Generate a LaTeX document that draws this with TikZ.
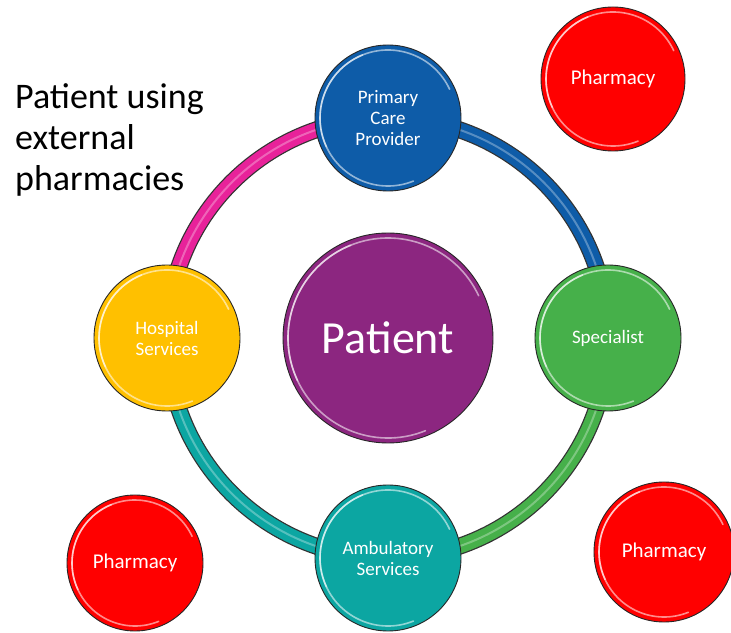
\documentclass[tikz,border=0pt]{standalone}
\usepackage{fontspec}
\setmainfont{Carlito}
\usetikzlibrary{backgrounds}
\definecolor{pcpblue}{RGB}{14,92,168}
\definecolor{specgreen}{RGB}{70,176,74}
\definecolor{hospyellow}{RGB}{255,192,0}
\definecolor{ambteal}{RGB}{12,166,162}
\definecolor{patpurple}{RGB}{140,38,128}
\definecolor{pharmred}{RGB}{255,0,0}
\definecolor{ringpink}{RGB}{232,34,154}
\newcommand\glossball[2]{%
  \pgfmathsetmacro\rr{#2-5}%
  \draw[gloss] ([shift={(112:\rr)}]#1.center) arc[start angle=112,end angle=205,radius=\rr];
  \draw[gloss] ([shift={(292:\rr)}]#1.center) arc[start angle=292,end angle=25,radius=\rr];
}
\tikzset{
  ball/.style={circle,draw=black!85,line width=0.9pt,inner sep=0pt,text=white,align=center},
  small/.style={font=\fontsize{19}{21}\selectfont},
  pharm/.style={ball,fill=pharmred,font=\fontsize{21}{23}\selectfont},
  gloss/.style={white,opacity=.55,line width=1.6pt,line cap=round},
  ringedge/.style={line width=17pt,black!80},
  ringhi/.style={line width=2pt,white,opacity=.3},
}
\begin{document}
\begin{tikzpicture}[x=1pt,y=1pt]
\useasboundingbox (0,0) rectangle (731,632);
\node[ball,fill=patpurple,minimum size=210pt,font=\fontsize{46}{50}\selectfont] (patient) at (388,294) {Patient};
\node[ball,fill=pcpblue,minimum size=146pt,small] (pcp) at (388,514) {Primary\\Care\\Provider};
\node[ball,fill=specgreen,minimum size=146pt,small] (spec) at (608,294) {Specialist};
\node[ball,fill=hospyellow,minimum size=146pt,small] (hosp) at (167,294) {Hospital\\Services};
\node[ball,fill=ambteal,minimum size=146pt,small] (amb) at (388,74) {Ambulatory\\Services};
\node[pharm,minimum size=144pt] (ph1) at (613,553) {Pharmacy};
\node[pharm,minimum size=136pt] (ph2) at (135,69) {Pharmacy};
\node[pharm,minimum size=140pt] (ph3) at (664,80) {Pharmacy};
\node[anchor=north west,align=left,inner sep=0pt,font=\fontsize{36}{41}\selectfont] (title) at (15,549) {Patient using\\external\\pharmacies};
\foreach \n/\r in {patient/105,pcp/73,spec/73,hosp/73,amb/73,ph1/72,ph2/68,ph3/70} {\glossball{\n}{\r}}
\begin{scope}[on background layer]
\foreach \a/\b/\c in {pcp/spec/pcpblue,spec/amb/specgreen,amb/hosp/ambteal,hosp/pcp/ringpink} {
  \draw[ringedge] (\a.center) to[bend left=45] (\b.center);
  \draw[line width=14.5pt,\c] (\a.center) to[bend left=45] (\b.center);
  \draw[ringhi] (\a.center) to[bend left=45] (\b.center);
}
\end{scope}
\end{tikzpicture}
\end{document}
